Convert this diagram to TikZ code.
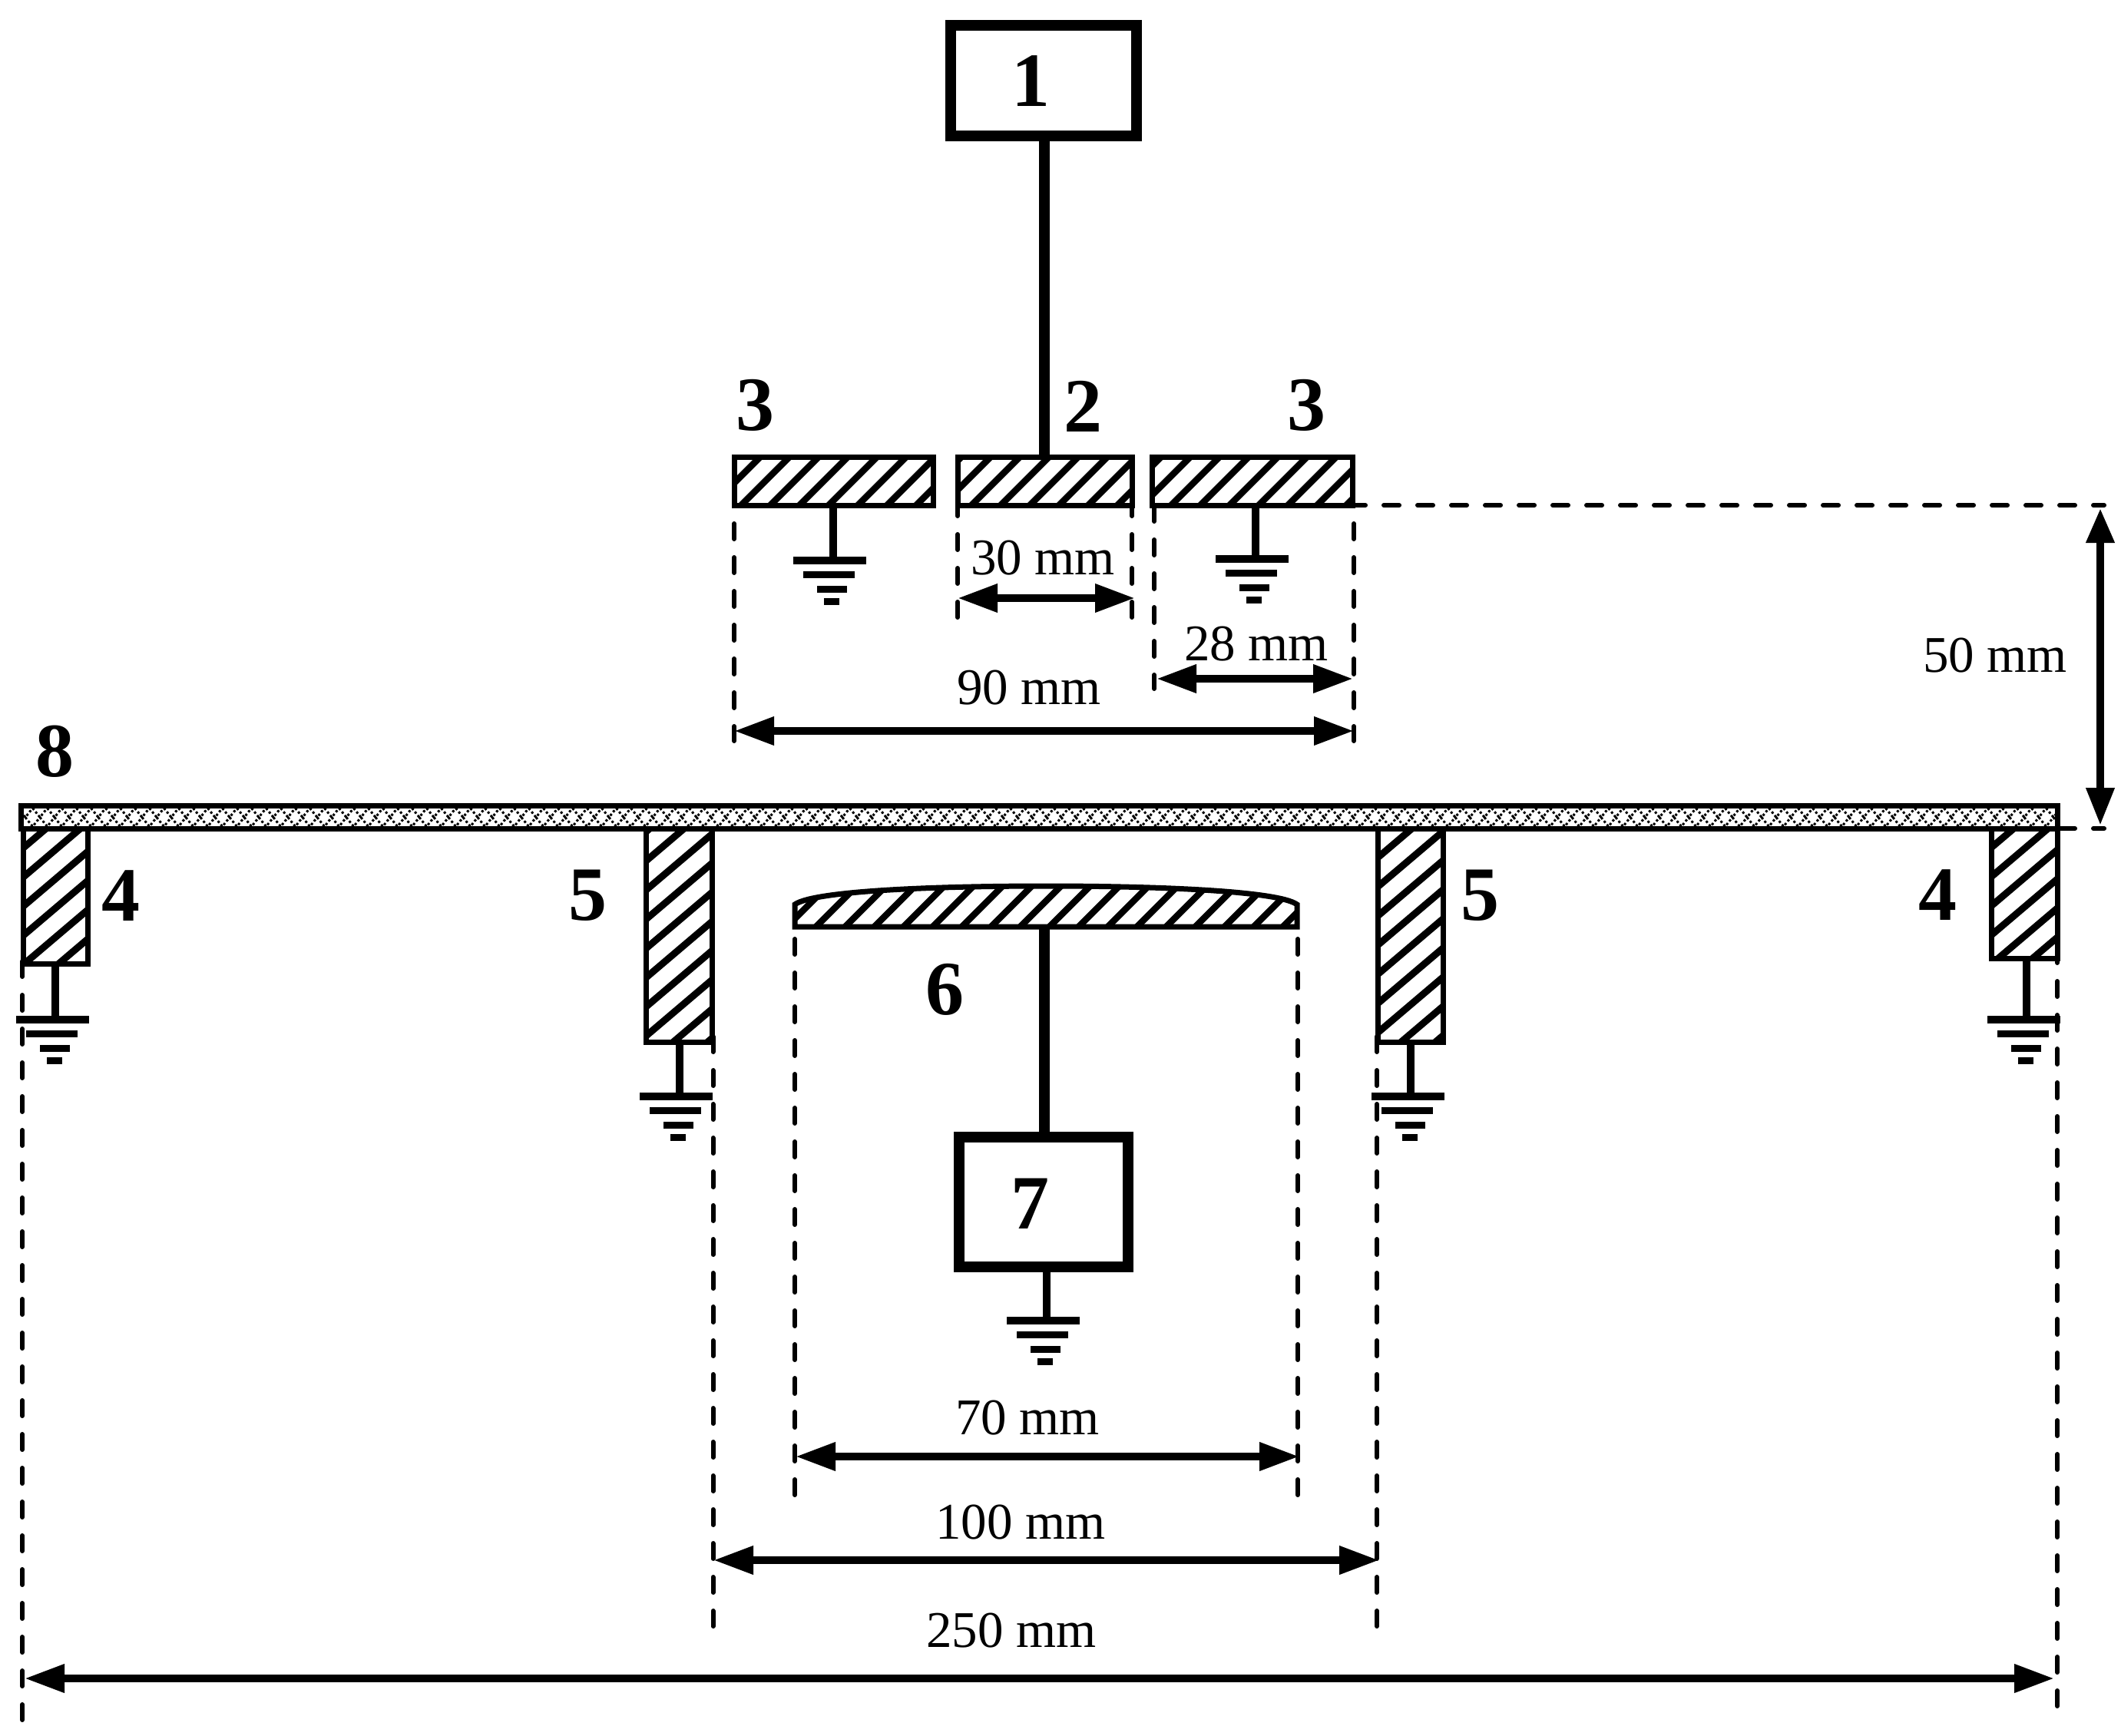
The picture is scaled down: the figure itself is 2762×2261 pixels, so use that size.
\documentclass[tikz,border=0pt]{standalone}
\usepackage{fontspec}
\setmainfont{Liberation Serif}
\usetikzlibrary{arrows.meta,calc}
\newcommand{\extline}[4]{%
  \coordinate (#1-a) at (#2,#3);
  \coordinate (#1-b) at (#2,#4);
  \draw[extdash] (#1-a) -- (#1-b);}
\newcommand{\groundat}[5]{% name, source, stem x, left, top
  \coordinate (#1) at (#3,#5);
  \draw[stem] (#2 -| #1) -- (#1);
  \pic at (#4,#5) {earth};}
\tikzset{
  x=1pt,y=-1pt,
  hatchH/.style={path picture={\begin{scope}[shift={(path picture bounding box.center)}]
     \foreach \k in {-18,...,18}{\draw[line width=8.5pt] (\k*38+#1-110,110) -- (\k*38+#1+110,-110);}
     \end{scope}}},
  hatchV/.style={path picture={\begin{scope}[shift={(path picture bounding box.center)}]
     \foreach \k in {-8,...,8}{\draw[line width=9pt] (-100,\k*38+#1+85) -- (100,\k*38+#1-85);}
     \end{scope}}},
  weave/.style={path picture={\begin{scope}[shift={(path picture bounding box.center)}]
     \foreach \k in {-70,...,70}{\draw[line width=3pt,dash pattern=on 3pt off 3pt]
       (\k*19,-12) -- (\k*19+9.5,0) -- (\k*19+19,-12)
       (\k*19+9.5,0) -- (\k*19+19,12) -- (\k*19+28.5,0);}
     \end{scope}}},
  part/.style={draw,line width=7pt,inner sep=0pt,outer sep=0pt,rectangle},
  unitbox/.style={draw,line width=14pt,inner sep=0pt,outer sep=0pt,rectangle},
  feed/.style={line width=14pt},
  stem/.style={line width=10pt},
  extdash/.style={line width=6pt,line cap=round,dash pattern=on 20pt off 24pt},
  dimh/.style={line width=10pt,{Triangle[length=52pt,width=35pt]}-{Triangle[length=52pt,width=35pt]}},
  dimv/.style={line width=10pt,{Triangle[length=45pt,width=35pt]}-{Triangle[length=49pt,width=35pt]}},
  numlab/.style={anchor=base,inner sep=0pt,font=\fontsize{100}{100}\selectfont\bfseries},
  dimlab/.style={anchor=base,inner sep=0pt,font=\fontsize{67}{67}\selectfont},
  earth/.pic={
    \fill (0,0) rectangle (95,10);
    \fill (13,19) rectangle (80,28);
    \fill (31,38) rectangle (70,47);
    \fill (40,54) rectangle (60,63);
  }
}
\begin{document}
\begin{tikzpicture}
\useasboundingbox (0,0) rectangle (2762,2261);
% electrodes top
\node[part,hatchH=24,minimum width=259pt,minimum height=63pt] (b3l) at (1086,627) {};
\node[part,hatchH=11,minimum width=227pt,minimum height=63pt] (b2) at (1361,627) {};
\node[part,hatchH=1,minimum width=261pt,minimum height=63pt] (b3r) at (1631,627) {};
% units
\node[unitbox,minimum width=242pt,minimum height=144pt] (b1) at (1359,105) {};
\node[unitbox,minimum width=220pt,minimum height=169pt] (b7) at (1359,1565.5) {};
% side electrodes
\node[part,hatchV=15,minimum width=84pt,minimum height=176pt] (b4l) at (72.5,1167.5) {};
\node[part,hatchV=18,minimum width=86pt,minimum height=278pt] (b5l) at (884.5,1218.5) {};
\node[part,hatchV=14,minimum width=85pt,minimum height=278pt] (b5r) at (1837,1218.5) {};
\node[part,hatchV=17,minimum width=86pt,minimum height=169pt] (b4r) at (2636.5,1164) {};
% plate
\node[part,fill=white,weave,minimum width=2652pt,minimum height=30pt] (b8) at (1353.5,1064.5) {};
% lens
\draw[line width=7pt,hatchH=31] (1035,1207) -- (1035,1178)
  .. controls (1060,1160) and (1220,1154) .. (1362,1154)
  .. controls (1504,1154) and (1664,1160) .. (1689,1178)
  -- (1689,1207) -- cycle;
\coordinate (lens) at (1360,1207);
% feeds
\draw[feed] ($(b1.south)+(1,0)$) -- ($(b1.south |- b2.north)+(1,0)$);
\draw[feed] (lens) -- (lens |- b7.north);
% grounds
\groundat{g3l}{b3l.south}{1085}{1033}{725}
\groundat{g3r}{b3r.south}{1635}{1583}{723}
\groundat{g4l}{b4l.south}{72}{21}{1323}
\groundat{g5l}{b5l.south}{885}{833}{1423}
\groundat{g5r}{b5r.south}{1837}{1786}{1423}
\groundat{g4r}{b4r.south}{2639}{2588}{1323}
\groundat{g7}{b7.south}{1362.5}{1311}{1715}
% extension lines
\extline{e1}{956}{682}{965}
\extline{e2}{1763}{682}{965}
\extline{e3}{1247}{652}{805}
\extline{e4}{1474}{652}{805}
\extline{e5}{1503}{659}{897}
\extline{e6}{1035}{1223}{1947}
\extline{e7}{1690}{1223}{1947}
\extline{e8}{928.5}{1350}{2118}
\extline{e9}{1793}{1350}{2118}
\extline{e10}{29}{1252}{2240}
\extline{e11}{2679}{1234}{2222}
\coordinate (h1a) at (1765,658);
\coordinate (h1b) at (2740,658);
\draw[extdash,dash phase=7pt] (h1a) -- (h1b);
\coordinate (h2a) at (2682,1079);
\coordinate (h2b) at (2740,1079);
\draw[extdash] (h2a) -- (h2b);
% dimension arrows
\coordinate (a30l) at (1247,779); \coordinate (a30r) at (1478,779);
\draw[dimh] (a30l) -- (a30r);
\coordinate (a28l) at (1506,884); \coordinate (a28r) at (1762,884);
\draw[dimh] (a28l) -- (a28r);
\coordinate (a90l) at (956,952); \coordinate (a90r) at (1763,952);
\draw[dimh] (a90l) -- (a90r);
\coordinate (a70l) at (1036,1897); \coordinate (a70r) at (1692,1897);
\draw[dimh] (a70l) -- (a70r);
\coordinate (a100l) at (929,2032); \coordinate (a100r) at (1796,2032);
\draw[dimh] (a100l) -- (a100r);
\coordinate (a250l) at (32,2186); \coordinate (a250r) at (2675,2186);
\draw[dimh] (a250l) -- (a250r);
\coordinate (a50t) at (2735,662); \coordinate (a50b) at (2735,1075);
\draw[dimv] (a50t) -- (a50b);
% labels
\node[numlab] (n1) at (1342,139) {1};
\node[numlab] (n2) at (1410,562) {2};
\node[numlab] (n3l) at (983,560) {3};
\node[numlab] (n3r) at (1701,560) {3};
\node[numlab] (n4l) at (157,1199) {4};
\node[numlab] (n4r) at (2523,1198) {4};
\node[numlab] (n5l) at (765,1198) {5};
\node[numlab] (n5r) at (1927,1198) {5};
\node[numlab] (n6) at (1230,1321) {6};
\node[numlab] (n7) at (1341,1600) {7};
\node[numlab] (n8) at (71,1011) {8};
\node[dimlab] (t30) at (1358,748) {30 mm};
\node[dimlab] (t28) at (1636,860) {28 mm};
\node[dimlab] (t90) at (1340,917) {90 mm};
\node[dimlab] (t50) at (2598,875) {50 mm};
\node[dimlab] (t70) at (1338,1868) {70 mm};
\node[dimlab] (t100) at (1329,2004) {100 mm};
\node[dimlab] (t250) at (1317,2145) {250 mm};
\end{tikzpicture}
\end{document}
